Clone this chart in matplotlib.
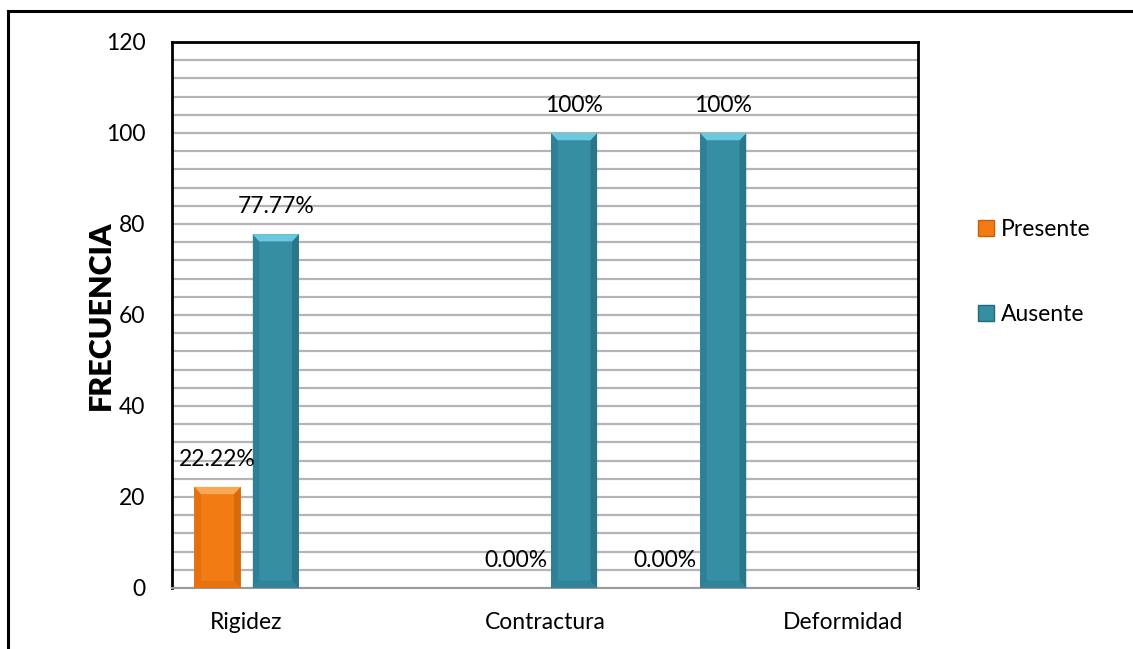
import numpy as np
import matplotlib
matplotlib.use("Agg")
import matplotlib.pyplot as plt
from matplotlib.patches import Polygon, Rectangle
from matplotlib.lines import Line2D
from matplotlib.ticker import MultipleLocator

plt.rcParams["font.family"] = ["Lato", "DejaVu Sans"]

# five slots on the category axis; only three carry a label
categories = ["Rigidez", "", "Contractura", "", "Deformidad"]
presente = [22.22, None, 0.0, 0.0, None]
ausente = [77.77, None, 100.0, 100.0, None]
presente_labels = ["22.22%", None, "0.00%", "0.00%", None]
ausente_labels = ["77.77%", None, "100%", "100%", None]

ORANGE = ("#F27B14", "#F9A855", "#C95F08")
TEAL = ("#368EA3", "#6CC8DE", "#24687A")
FS = 16.5


def bevel_bar(ax, x, h, w, colors):
    base, light, dark = colors
    if h <= 0:
        return
    x0, x1 = x - w / 2, x + w / 2
    dx, dy = 0.045, 1.6
    ax.add_patch(Rectangle((x0, 0), w, h, facecolor=base, edgecolor="none", zorder=3))
    # darker side strips
    ax.add_patch(Polygon([(x0, 0), (x0 + dx, dy), (x0 + dx, h - dy), (x0, h)],
                         closed=True, facecolor=dark, edgecolor="none", alpha=0.35, zorder=4))
    ax.add_patch(Polygon([(x1, 0), (x1 - dx, dy), (x1 - dx, h - dy), (x1, h)],
                         closed=True, facecolor=dark, edgecolor="none", alpha=0.6, zorder=4))
    # light top bevel and soft bottom bevel
    ax.add_patch(Polygon([(x0, h), (x1, h), (x1 - dx, h - dy), (x0 + dx, h - dy)],
                         closed=True, facecolor=light, edgecolor="none", zorder=4))
    ax.add_patch(Polygon([(x0, 0), (x1, 0), (x1 - dx, dy), (x0 + dx, dy)],
                         closed=True, facecolor=dark, edgecolor="none", alpha=0.25, zorder=4))


fig = plt.figure(figsize=(11.33, 6.49), dpi=100)
ax = fig.add_axes([0.1518, 0.094, 0.6584, 0.8413])

xs = np.arange(len(categories))
width = 0.31
offset = 0.195
for i in xs:
    if presente[i] is not None:
        bevel_bar(ax, i - offset, presente[i], width, ORANGE)
        ax.annotate(presente_labels[i], (i - offset, presente[i]), xytext=(0, 12),
                    textcoords="offset points", ha="center", va="bottom",
                    fontsize=FS, color="black", zorder=5)
    if ausente[i] is not None:
        bevel_bar(ax, i + offset, ausente[i], width, TEAL)
        ax.annotate(ausente_labels[i], (i + offset, ausente[i]), xytext=(0, 12),
                    textcoords="offset points", ha="center", va="bottom",
                    fontsize=FS, color="black", zorder=5)

ax.set_xlim(-0.5, len(categories) - 0.5)
ax.set_ylim(0, 120)
ax.set_xticks(xs)
ax.set_xticklabels(categories, fontsize=FS)
ax.yaxis.set_major_locator(MultipleLocator(20))
ax.yaxis.set_minor_locator(MultipleLocator(4))
ax.tick_params(axis="both", which="both", length=0)
ax.tick_params(axis="y", labelsize=FS, pad=19)
ax.tick_params(axis="x", pad=17)
ax.grid(axis="y", which="both", color="#B4B4B4", linewidth=1.6, zorder=1)
ax.set_axisbelow(True)

for side in ("left", "top", "right"):
    ax.spines[side].set_color("black")
    ax.spines[side].set_linewidth(2)
ax.spines["bottom"].set_color("#9A9A9A")
ax.spines["bottom"].set_linestyle((0, (1, 1)))
ax.spines["bottom"].set_linewidth(1.5)

ax.set_ylabel("FRECUENCIA", fontsize=22, fontweight="heavy")
ax.yaxis.set_label_coords(-0.077, 0.5)

handles = [Rectangle((0, 0), 1, 1, facecolor=ORANGE[0], edgecolor=ORANGE[2]),
           Rectangle((0, 0), 1, 1, facecolor=TEAL[0], edgecolor=TEAL[2])]
fig.legend(handles, ["Presente", "Ausente"], loc="upper left",
           bbox_to_anchor=(0.845, 0.695), frameon=False, fontsize=FS,
           handlelength=0.7, handleheight=0.7, handletextpad=0.3,
           labelspacing=2.82)

# frame around the chart area
fig.add_artist(Line2D([7.5 / 1133, 7.5 / 1133], [0, 1 - 10.5 / 649],
                      transform=fig.transFigure, color="black", linewidth=2.2))
fig.add_artist(Line2D([7.5 / 1133, 1], [1 - 10.5 / 649, 1 - 10.5 / 649],
                      transform=fig.transFigure, color="black", linewidth=2.2))

fig.savefig("out.png", dpi=100)
